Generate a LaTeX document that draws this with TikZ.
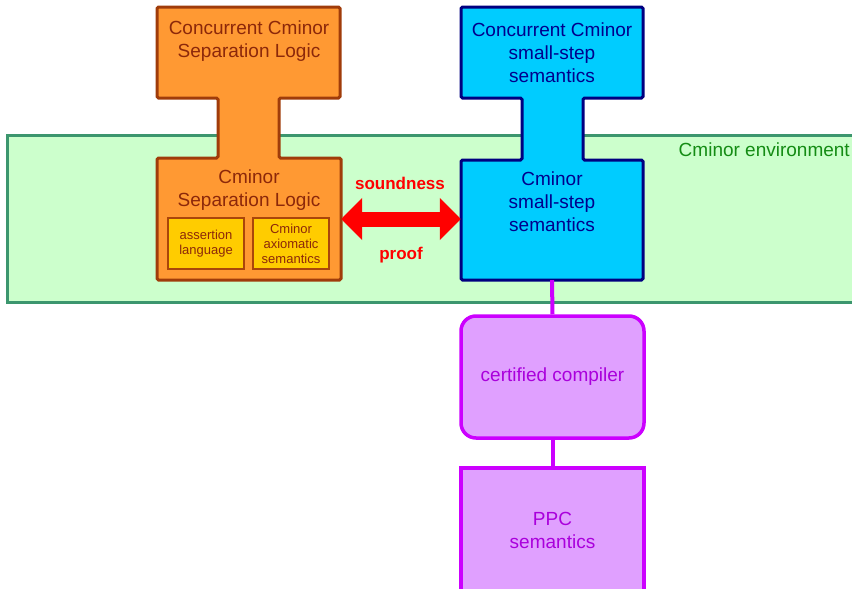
\documentclass[tikz,border=0pt]{standalone}
\usepackage{fontspec}
\setmainfont{Liberation Sans}
\usetikzlibrary{arrows.meta}
\definecolor{orfill}{RGB}{255,153,51}
\definecolor{ordraw}{RGB}{160,60,10}
\definecolor{ortext}{RGB}{140,40,10}
\definecolor{yefill}{RGB}{255,204,0}
\definecolor{yedraw}{RGB}{170,70,10}
\definecolor{blfill}{RGB}{0,204,255}
\definecolor{bldraw}{RGB}{0,0,128}
\definecolor{bltext}{RGB}{0,0,140}
\definecolor{grfill}{RGB}{204,255,204}
\definecolor{grdraw}{RGB}{60,150,110}
\definecolor{grtext}{RGB}{20,140,20}
\definecolor{mgfill}{RGB}{224,160,255}
\definecolor{mgdraw}{RGB}{204,0,255}
\definecolor{mgtext}{RGB}{170,0,220}
\tikzset{
  bigtext/.style={align=center, inner sep=0pt, font=\fontsize{19}{23}\selectfont},
  smalltext/.style={align=center, inner sep=0pt, font=\fontsize{13}{15}\selectfont},
  redlabel/.style={text=red, inner sep=0pt, font=\fontsize{17}{20}\selectfont\bfseries},
  ybox/.style={draw=yedraw, fill=yefill, line width=2.5pt, minimum width=76pt, minimum height=51pt, smalltext, text=ortext},
  mgbox/.style={draw=mgdraw, fill=mgfill, line width=3.5pt, minimum width=183pt, bigtext, text=mgtext},
  mgline/.style={draw=mgdraw, line width=4pt},
}
\begin{document}
\begin{tikzpicture}[x=1pt,y=-1pt]
\useasboundingbox (0,0) rectangle (852,589);
\clip (0,0) rectangle (852,589);
\fill[white] (0,0) rectangle (852,589);
% environment band
\draw[grdraw, fill=grfill, line width=3pt] (7,135) rectangle (880,302);
\node[bigtext, text=grtext, anchor=east] (env) at (850,150) {Cminor environment};
% orange I-shape
\draw[ordraw, fill=orfill, line width=3pt, rounded corners=1.5pt]
  (157,7) -- (340,7) -- (340,98) -- (279,98) -- (279,158) -- (341,158) -- (341,280)
  -- (157,280) -- (157,158) -- (218,158) -- (218,98) -- (157,98) -- cycle;
\node[bigtext, text=ortext] (ccsl) at (249,41) {Concurrent Cminor\\Separation Logic};
\node[bigtext, text=ortext] (csltext) at (249,190) {Cminor\\Separation Logic};
\node[inner sep=0pt, minimum width=184pt, minimum height=122pt] (csl) at (249,219) {};
\node[ybox] (al) at (206,243.5) {assertion\\language};
\node[ybox] (cas) at (291,243.5) {Cminor\\axiomatic\\semantics};
% blue I-shape
\draw[bldraw, fill=blfill, line width=3pt, rounded corners=1.5pt]
  (461,7) -- (643,7) -- (643,98) -- (583,98) -- (583,160) -- (643,160) -- (643,280)
  -- (461,280) -- (461,160) -- (522,160) -- (522,98) -- (461,98) -- cycle;
\node[bigtext, text=bltext] (ccss) at (552,53) {Concurrent Cminor\\small-step\\semantics};
\node[bigtext, text=bltext] (csstext) at (552,202) {Cminor\\small-step\\semantics};
\node[inner sep=0pt, minimum width=182pt, minimum height=120pt] (css) at (552,220) {};
% soundness arrow
\draw[red, line width=15pt, {Triangle[length=21pt,width=41pt]}-{Triangle[length=21pt,width=41pt]}]
  (csl.east |- 0,219) -- (css.west |- 0,219);
\node[redlabel] (sound) at (400,183) {soundness};
\node[redlabel] (proof) at (401,255) {proof};
% compiler chain
\node[mgbox, rounded corners=15pt, minimum height=122pt] (comp) at (552.5,377) {certified compiler};
\node[mgbox, minimum height=124pt] (ppc) at (552.5,530) {PPC\\semantics};
\draw[mgline] (css.south) -- (comp.north);
\draw[mgline] (comp.south) -- (ppc.north);
\end{tikzpicture}
\end{document}
